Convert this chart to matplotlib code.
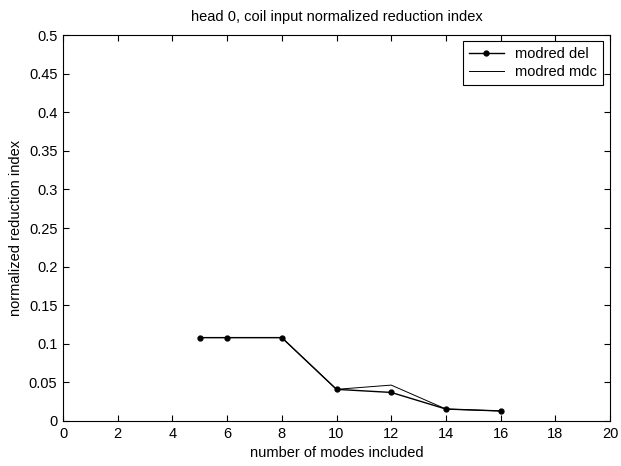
import matplotlib
matplotlib.use('Agg')
import matplotlib.pyplot as plt

modes = [5, 6, 8, 10, 12, 14, 16]
modred_del = [0.108, 0.108, 0.108, 0.041, 0.037, 0.0155, 0.013]
modred_mdc = [0.108, 0.108, 0.108, 0.041, 0.0465, 0.0155, 0.013]

x_ticks = list(range(0, 21, 2))
y_ticks = [0, 0.05, 0.1, 0.15, 0.2, 0.25, 0.3, 0.35, 0.4, 0.45, 0.5]
y_labels = ['0', '0.05', '0.1', '0.15', '0.2', '0.25', '0.3', '0.35', '0.4', '0.45', '0.5']

plt.rcParams['font.family'] = ['Liberation Sans', 'DejaVu Sans']
plt.rcParams['font.size'] = 10.5

fig = plt.figure(figsize=(6.21, 4.66), dpi=100)
# axes box in pixels: left 63, right 610, top 35, bottom 421
ax = fig.add_axes([63 / 621, 45 / 466, 547 / 621, 386 / 466])

ax.plot(modes, modred_del, color='black', marker='o', markersize=3.5,
        linewidth=1, label='modred del')
ax.plot(modes, modred_mdc, color='black', linewidth=0.7, label='modred mdc')

ax.set_xlim(0, 20)
ax.set_ylim(0, 0.5)
ax.set_xticks(x_ticks)
ax.set_yticks(y_ticks)
ax.set_yticklabels(y_labels)
ax.tick_params(direction='in', length=4, top=True, right=True, width=0.8, pad=4)
for s in ax.spines.values():
    s.set_linewidth(0.8)

ax.set_xlabel('number of modes included', labelpad=4)
ax.set_ylabel('normalized reduction index', labelpad=4)
ax.set_title('head 0, coil input normalized reduction index', fontsize=10.5, pad=10)

leg = ax.legend(loc='upper right', bbox_to_anchor=(0.987, 0.984), borderaxespad=0,
                fancybox=False, edgecolor='black', framealpha=1,
                handlelength=2.4, handletextpad=0.8, borderpad=0.4,
                labelspacing=0.3)
leg.get_frame().set_linewidth(0.8)

fig.savefig('out.png', dpi=100)
